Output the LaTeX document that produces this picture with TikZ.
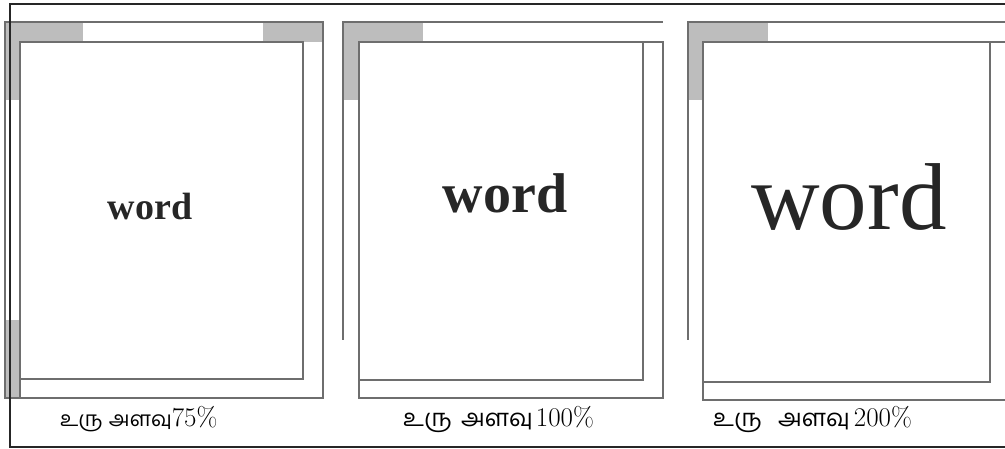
\documentclass[tikz,border=0pt]{standalone}
\usepackage{fontspec}
\newfontfamily\wordfont{Liberation Serif}
\newfontfamily\tamilfont[Script=Tamil]{Hind Madurai}
\definecolor{lc}{HTML}{6E6E6E}
\definecolor{gf}{HTML}{BDBDBD}
\newcommand{\tam}[2]{{\tamilfont\fontsize{#1}{24}\selectfont #2}}
\begin{document}
\begin{tikzpicture}[x=1pt,y=-1pt,
  gline/.style={draw=lc,line width=1.3pt},
  gfill/.style={fill=gf,draw=none},
  frame/.style={draw=black!85,line width=1.6pt},
  wordtxt/.style={anchor=base,inner sep=0pt,text=black!85},
  lab/.style={anchor=base west,inner sep=0pt,font=\fontsize{27}{30}\selectfont}]
\useasboundingbox (0,0) rectangle (1005,449);
\fill[white] (0,0) rectangle (1005,449);
% ---------- panel 1 ----------
\fill[gfill] (4,22) rectangle (83,42);
\fill[gfill] (263,22) rectangle (323,42);
\fill[gfill] (4,22) rectangle (20,100);
\fill[gfill] (4,320) rectangle (20,398);
\draw[gline] (5,22) -- (5,398);
\draw[gline] (4,22) -- (323,22) -- (323,398) -- (4,398);
\draw[gline] (20,42) rectangle (303,379);
\draw[gline] (20,379) -- (20,398);
\node[wordtxt,font=\wordfont\bfseries\fontsize{38}{40}\selectfont] (w1) at (150,220) {word};
% ---------- panel 2 ----------
\fill[gfill] (343,22) rectangle (423,42);
\fill[gfill] (343,22) rectangle (358,100);
\draw[gline] (343,340) -- (343,22) -- (663,22);
\draw[gline] (610,42) -- (663,42) -- (663,398) -- (359,398) -- (359,380);
\draw[gline] (359,42) rectangle (643,380);
\node[wordtxt,font=\wordfont\bfseries\fontsize{56}{60}\selectfont] (w2) at (505,213) {word};
% ---------- panel 3 ----------
\fill[gfill] (688,22) rectangle (768,42);
\fill[gfill] (688,22) rectangle (703,100);
\draw[gline] (688,340) -- (688,22) -- (1005,22);
\draw[gline] (990,42) -- (1005,42);
\draw[gline] (703,382) -- (703,400) -- (1005,400);
\draw[gline] (703,42) rectangle (990,382);
\node[wordtxt,font=\wordfont\fontsize{95}{100}\selectfont] (w3) at (849,230) {word};
% ---------- outer frame ----------
\draw[frame] (1006,4) -- (10,4) -- (10,447) -- (1006,447);
% ---------- labels ----------
\node[lab] (l1) at (60,426) {\tam{21}{உரு\hspace{6pt}அளவு}75\%};
\node[lab] (l2) at (403,426) {\tam{24}{உரு\hspace{9pt}அளவு}\hspace{3pt}100\%};
\node[lab] (l3) at (713,426) {\tam{24}{உரு\hspace{16pt}அளவு}\hspace{4pt}200\%};
\end{tikzpicture}
\end{document}
